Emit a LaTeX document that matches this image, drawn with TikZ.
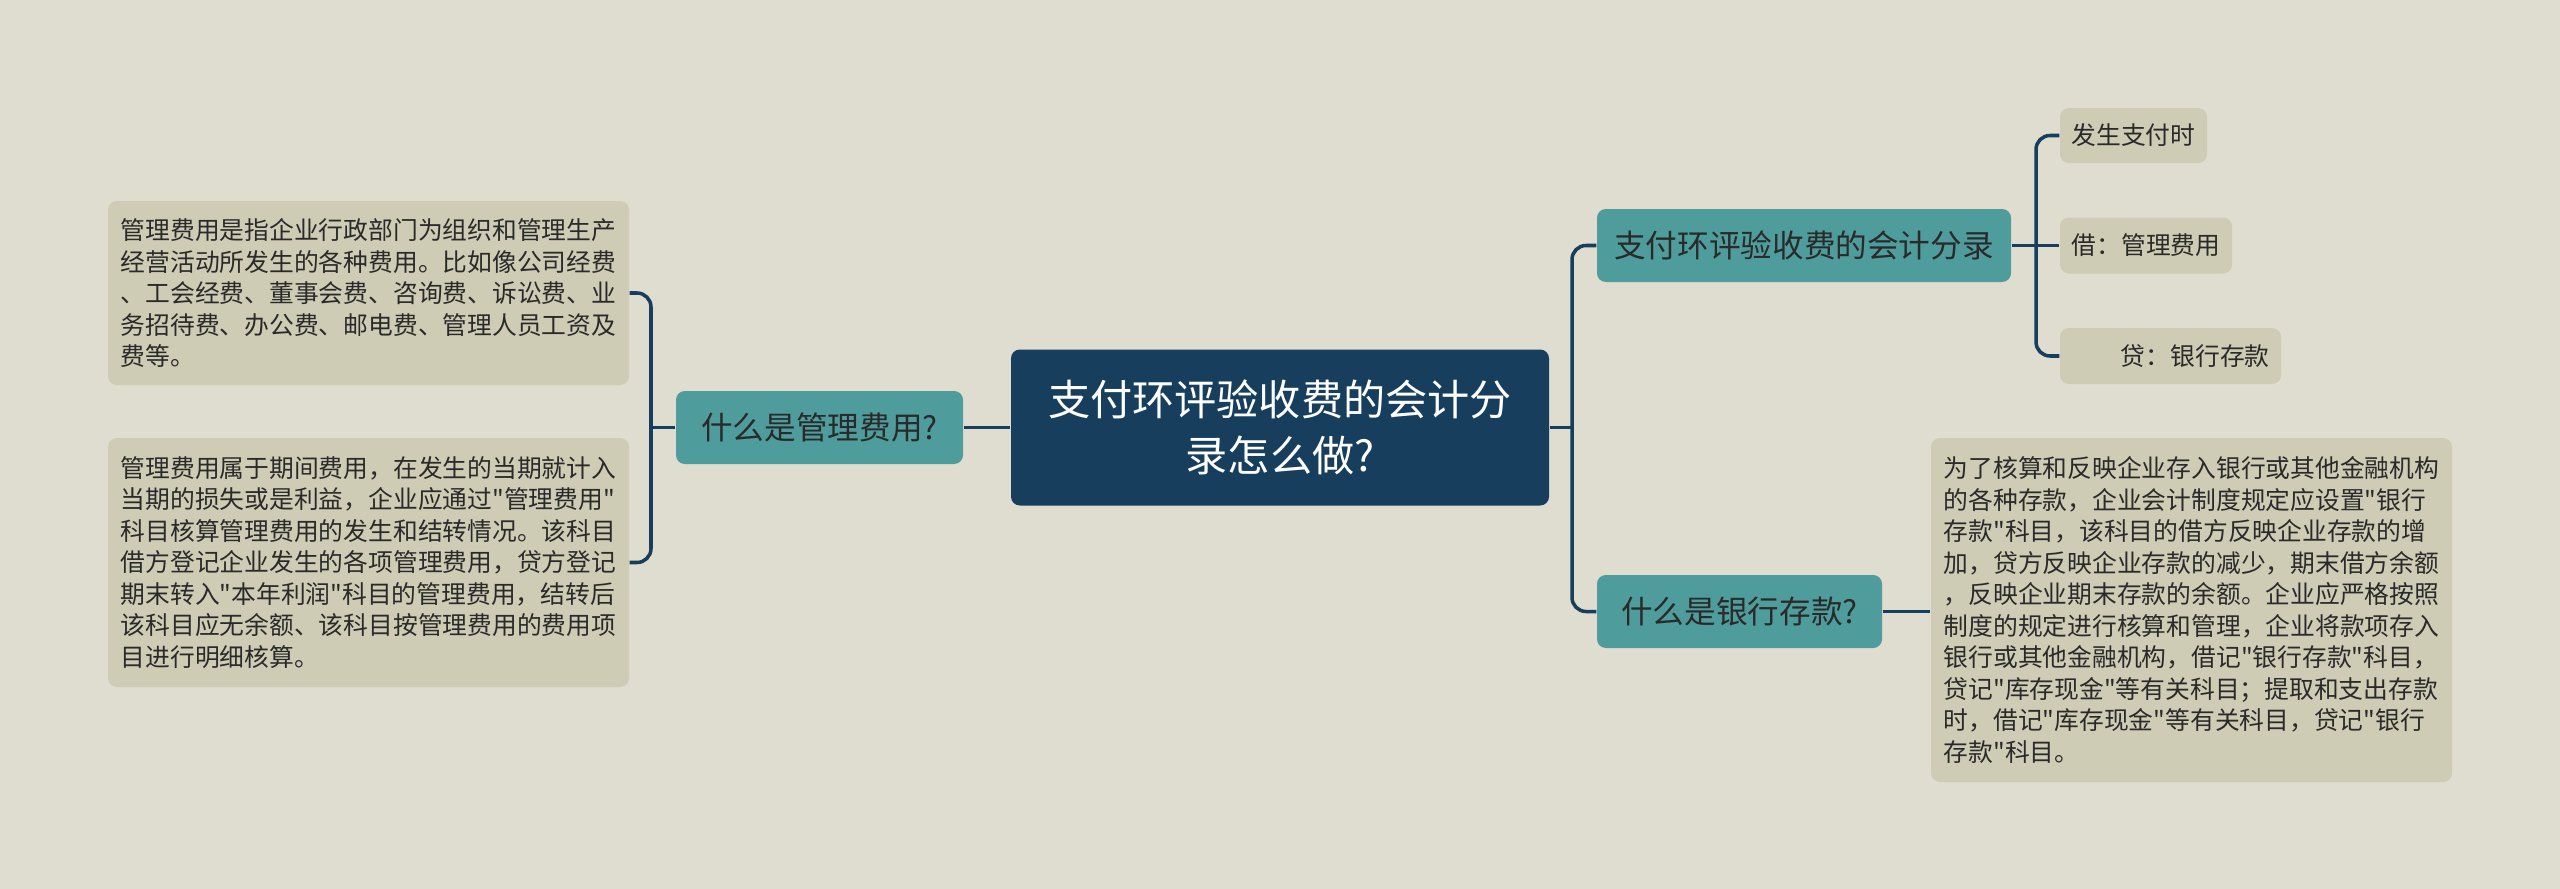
\documentclass[tikz,border=0pt]{standalone}
\usepackage{fontspec}
\usepackage{xcolor}
\usepackage{tikz}
\usetikzlibrary{positioning,calc}
\newfontfamily\cjk{Noto Sans CJK SC}
\definecolor{PaperBg}{HTML}{DFDDCF}
\definecolor{RootNavy}{HTML}{173E5D}
\definecolor{TopicTeal}{HTML}{4E9C9C}
\definecolor{LeafBg}{HTML}{CECCB4}
\definecolor{TextDark}{HTML}{2A2A2A}

\begin{document}
\begin{tikzpicture}[every node/.style={font=\cjk, inner sep=0pt},
          link/.style={RootNavy, line width=1pt, rounded corners=0.14cm},
          topic/.style={fill=TopicTeal, rounded corners=2.5pt, minimum height=0.73cm,
            text=TextDark, font={\cjk\fontsize{9}{11}\selectfont}},
          leaf/.style={fill=LeafBg, rounded corners=2.5pt, align=left,
            text=TextDark, font={\cjk\fontsize{7.05}{8.96}\selectfont}}]
        \fill[PaperBg] (0,0) rectangle (25.60,-8.89);
        % centre
        \node[fill=RootNavy, rounded corners=2.5pt, minimum width=5.38cm,
          minimum height=1.56cm, align=center, text=white,
          font={\cjk\fontsize{12}{15.8}\selectfont}]
        (root) at (12.80,-4.275) {支付环评验收费的会计分\\录怎么做?};
        % left branch
        \node[topic, minimum width=2.87cm] (lsub) at (8.195,-4.275) {什么是管理费用?};
        \node[leaf, minimum width=5.21cm, minimum height=1.84cm] (lt1) at (3.685,-2.93)
        {管理费用是指企业行政部门为组织和管理生产\\
         经营活动所发生的各种费用。比如像公司经费\\
         、工会经费、董事会费、咨询费、诉讼费、业\\
         务招待费、办公费、邮电费、管理人员工资及\\
         费等。};
        \node[leaf, minimum width=5.21cm, minimum height=2.49cm] (lt2) at (3.685,-5.625)
        {管理费用属于期间费用，在发生的当期就计入\\
         当期的损失或是利益，企业应通过"管理费用"\\
         科目核算管理费用的发生和结转情况。该科目\\
         借方登记企业发生的各项管理费用，贷方登记\\
         期末转入"本年利润"科目的管理费用，结转后\\
         该科目应无余额、该科目按管理费用的费用项\\
         目进行明细核算。};
        % right branch
        \node[topic, minimum width=4.14cm] (rs1) at (18.04,-2.455) {支付环评验收费的会计分录};
        \node[topic, minimum width=2.85cm] (rs2) at (17.395,-6.115) {什么是银行存款?};
        \node[leaf, minimum width=1.47cm, minimum height=0.55cm] (rl1) at (21.335,-1.355) {发生支付时};
        \node[leaf, minimum width=1.72cm, minimum height=0.56cm] (rl2) at (21.46,-2.455) {借：管理费用};
        \node[leaf, minimum width=2.21cm, minimum height=0.56cm] (rl3) at (21.705,-3.56) {　　贷：银行存款};
        \node[leaf, minimum width=5.21cm, minimum height=3.44cm] (rl4) at (21.915,-6.10)
        {为了核算和反映企业存入银行或其他金融机构\\
         的各种存款，企业会计制度规定应设置"银行\\
         存款"科目，该科目的借方反映企业存款的增\\
         加，贷方反映企业存款的减少，期末借方余额\\
         ，反映企业期末存款的余额。企业应严格按照\\
         制度的规定进行核算和管理，企业将款项存入\\
         银行或其他金融机构，借记"银行存款"科目，\\
         贷记"库存现金"等有关科目；提取和支出存款\\
         时，借记"库存现金"等有关科目，贷记"银行\\
         存款"科目。};
        \coordinate (lj) at (6.51,-4.275);
        \coordinate (rj) at (15.72,-4.275);
        \coordinate (rj2) at (20.36,-2.455);
        \draw[link] (root.west) -- (lsub.east);
        \draw[link] (lsub.west) -- (lj);
        \draw[link] (lt1.east) -| (lj) |- (lt2.east);
        \draw[link] (root.east) -- (rj);
        \draw[link] (rs1.west) -| (rj) |- (rs2.west);
        \draw[link] (rs1.east) -- (rl2.west);
        \draw[link] (rl1.west) -| (rj2) |- (rl3.west);
        \draw[link] (rs2.east) -- (rs2.east -| rl4.west);
      \end{tikzpicture}
\end{document}
